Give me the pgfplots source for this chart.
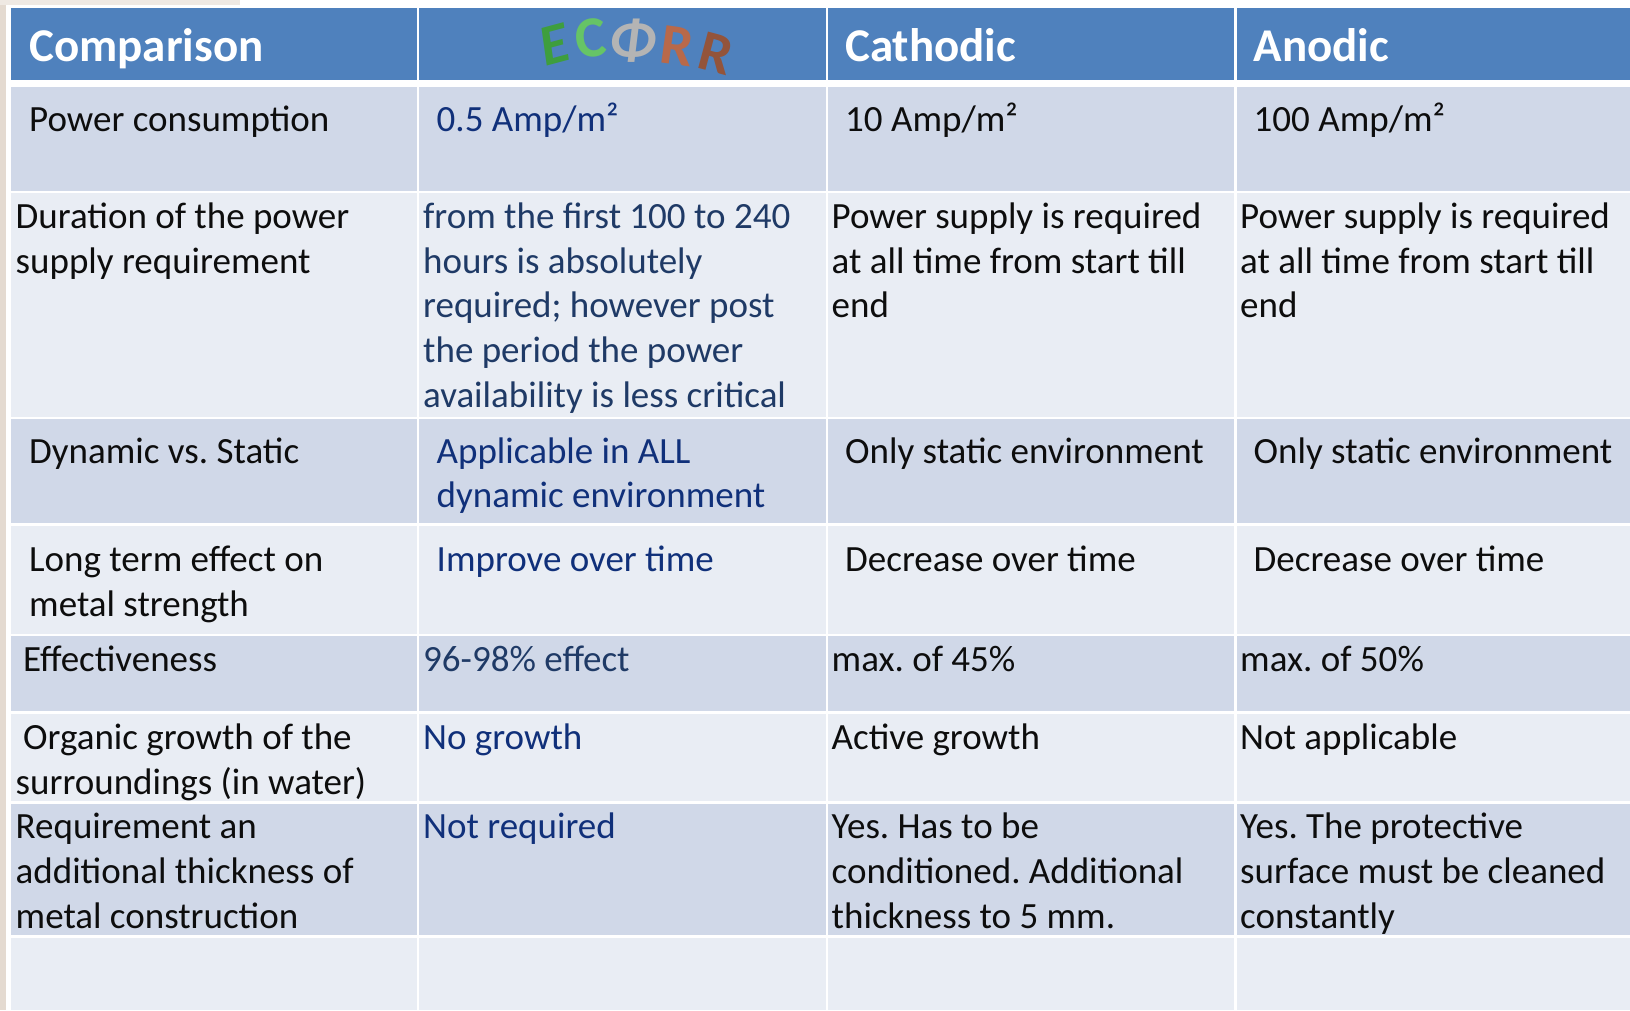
\documentclass[border=0pt]{standalone}
\usepackage{fontspec}
\setmainfont{Carlito}
\usepackage{graphicx}
\usepackage{pgfplots}
\pgfplotsset{compat=1.18}
\frenchspacing
\definecolor{hdr}{HTML}{4F81BD}
\definecolor{rowd}{HTML}{D0D8E8}
\definecolor{rowl}{HTML}{E9EDF4}
\definecolor{navyA}{HTML}{1F3A66}
\definecolor{navyB}{HTML}{10307A}
\definecolor{txt}{HTML}{0D0D0D}
\definecolor{beige}{HTML}{E4DAD0}
\definecolor{egreen}{HTML}{3E9E3E}
\definecolor{cgreen}{HTML}{66C466}
\definecolor{phigray}{HTML}{B4B4B4}
\definecolor{copper}{HTML}{B8694A}
\newcommand{\body}{\fontsize{37}{44.7}\selectfont}
\newcommand{\head}{\fontsize{47}{56}\selectfont\bfseries}
\newcommand{\tx}[4]{\node[anchor=base west,inner sep=0pt,text=#1,font=\body] at (axis cs:#2,#3+3) {#4};}
\begin{document}
\begin{tikzpicture}
\begin{axis}[width=1630pt,height=1010pt,scale only axis,xmin=0,xmax=1630,ymin=0,ymax=1010,y dir=reverse,hide axis,clip=false]
% background
\fill[white] (axis cs:0,0) rectangle (axis cs:1630,1010);
\fill[beige] (axis cs:0,0) rectangle (axis cs:6,1010);
\fill[beige!60] (axis cs:0,0) rectangle (axis cs:240,5);
% header cells
\foreach \a/\b in {10.7/416.5,419/825.5,827.5/1234,1236.5/1630}{
  \edef\tmp{\noexpand\fill[hdr] (axis cs:\a,7.5) rectangle (axis cs:\b,80);}\tmp
}
% body rows: top/bottom/colour
\foreach \t/\u/\c in {87/190.5/rowd,193/416.5/rowl,419/523/rowd,525.5/633.5/rowl,636/711/rowd,713.5/801/rowl,803.5/935/rowd,937.5/1010/rowl}{
  \foreach \a/\b in {10.7/416.5,419/825.5,827.5/1234,1236.5/1630}{
    \edef\tmp{\noexpand\fill[\c] (axis cs:\a,\t) rectangle (axis cs:\b,\u);}\tmp
  }
}
% header text
\node[anchor=base west,inner sep=0pt,text=white,font=\head] at (axis cs:29,61) {Comparison};
\node[anchor=base west,inner sep=0pt,text=white,font=\head] at (axis cs:845,61) {Cathodic};
\node[anchor=base west,inner sep=0pt,text=white,font=\head] at (axis cs:1253.5,61) {Anodic};
% logo
\node[anchor=base west,inner sep=0pt,font=\fontsize{58}{58}\selectfont\bfseries] at (axis cs:536,60)
  {\raisebox{-6pt}{\rotatebox{15}{\color{egreen}\itshape E}}\kern0pt\raisebox{2pt}{\rotatebox{6}{\color{cgreen}C}}\kern2pt\raisebox{1pt}{\color{phigray}\itshape Φ}\kern2pt\raisebox{-2pt}{\rotatebox{-8}{\color{copper}R}}\kern0pt\raisebox{-7pt}{\rotatebox{-15}{\color{copper!80!black}R}}};
% row 1
\tx{txt}{29}{128}{Power consumption}
\tx{navyB}{436.5}{128}{0.5 Amp/m²}
\tx{txt}{845}{128}{10 Amp/m²}
\tx{txt}{1253.5}{128}{100 Amp/m²}
% row 2
\tx{txt}{15.5}{225.5}{Duration of the power}
\tx{txt}{15.5}{270.2}{supply requirement}
\tx{navyA}{423}{225.5}{from the first 100 to 240}
\tx{navyA}{423}{270.2}{hours is absolutely}
\tx{navyA}{423}{314.9}{required; however post}
\tx{navyA}{423}{359.6}{the period the power}
\tx{navyA}{423}{404.3}{availability is less critical}
\tx{txt}{831.5}{225.5}{Power supply is required}
\tx{txt}{831.5}{270.2}{at all time from start till}
\tx{txt}{831.5}{314.9}{end}
\tx{txt}{1240}{225.5}{Power supply is required}
\tx{txt}{1240}{270.2}{at all time from start till}
\tx{txt}{1240}{314.9}{end}
% row 3
\tx{txt}{29}{460}{Dynamic vs. Static}
\tx{navyB}{436.5}{460}{Applicable in ALL}
\tx{navyB}{436.5}{504.7}{dynamic environment}
\tx{txt}{845}{460}{Only static environment}
\tx{txt}{1253.5}{460}{Only static environment}
% row 4
\tx{txt}{29}{568.4}{Long term effect on}
\tx{txt}{29}{613.1}{metal strength}
\tx{navyB}{436.5}{568.4}{Improve over time}
\tx{txt}{845}{568.4}{Decrease over time}
\tx{txt}{1253.5}{568.4}{Decrease over time}
% row 5
\tx{txt}{23}{668.5}{Effectiveness}
\tx{navyA}{423}{668.5}{96-98\% effect}
\tx{txt}{831.5}{668.5}{max. of 45\%}
\tx{txt}{1240}{668.5}{max. of 50\%}
% row 6
\tx{txt}{23}{746.3}{Organic growth of the}
\tx{txt}{15.5}{791}{surroundings (in water)}
\tx{navyB}{423}{746.3}{No growth}
\tx{txt}{831.5}{746.3}{Active growth}
\tx{txt}{1240}{746.3}{Not applicable}
% row 7
\tx{txt}{15.5}{835.7}{Requirement an}
\tx{txt}{15.5}{880.4}{additional thickness of}
\tx{txt}{15.5}{925.1}{metal construction}
\tx{navyB}{423}{835.7}{Not required}
\tx{txt}{831.5}{835.7}{Yes. Has to be}
\tx{txt}{831.5}{880.4}{conditioned. Additional}
\tx{txt}{831.5}{925.1}{thickness to 5 mm.}
\tx{txt}{1240}{835.7}{Yes. The protective}
\tx{txt}{1240}{880.4}{surface must be cleaned}
\tx{txt}{1240}{925.1}{constantly}
\end{axis}
\end{tikzpicture}
\end{document}
